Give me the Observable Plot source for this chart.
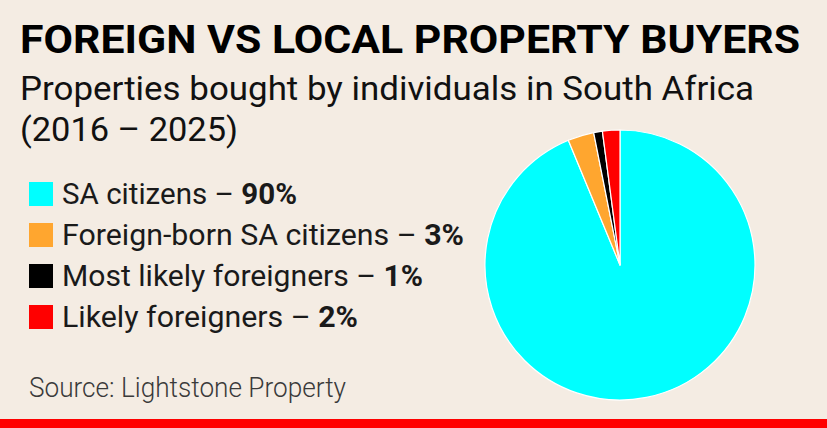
<!DOCTYPE html>
<html>
<head>
<meta charset="utf-8">
<script src="https://cdn.jsdelivr.net/npm/d3@7"></script>
<script src="https://cdn.jsdelivr.net/npm/@observablehq/plot@0.6"></script>
<style>
  html, body { margin: 0; padding: 0; background: #f4ece3; }
  #chart { position: relative; width: 827px; height: 428px; overflow: hidden; background: #f4ece3; font-family: Roboto, "Noto Sans", sans-serif; }
  .txt { position: absolute; white-space: nowrap; line-height: 1.2; z-index: 2; }
  .txt .inner { display: inline-block; transform-origin: 0 0; }
  .mk { display: inline-block; width: 0; height: 0; }
  #title { font-size: 39.5px; font-weight: 700; color: #000; }
  .sub { font-size: 34px; font-weight: 400; color: #111; }
  .leg { font-size: 30px; font-weight: 400; color: #1a1a1a; }
  .leg b { font-weight: 700; }
  #source { font-size: 28px; font-weight: 300; color: #3a3a3a; }
  .sw { position: absolute; width: 23.5px; height: 23.5px; z-index: 2; }
  #bar { position: absolute; left: 0; top: 419px; width: 827px; height: 9px; background: #ff0000; z-index: 2; }
  #plot { position: absolute; left: 0; top: 0; z-index: 1; }
</style>
</head>
<body>
<div id="chart">
  <div id="plot"></div>
  <div id="bar"></div>
</div>
<script>
// ---- data ----
const titleText = "FOREIGN VS LOCAL PROPERTY BUYERS";
const subtitleLines = ["Properties bought by individuals in South Africa", "(2016 – 2025)"];
const sourceText = "Source: Lightstone Property";
const categories = ["SA citizens", "Foreign-born SA citizens", "Most likely foreigners", "Likely foreigners"];
const shares = [90, 3, 1, 2];
const colors = ["#00ffff", "#ffa62f", "#000000", "#ff0000"];

const data = categories.map((c, i) => ({category: c, share: shares[i]}));
const color = Plot.scale({color: {type: "ordinal", domain: categories, range: colors}});

// ---- layout ----
const W = 827, H = 428;
const pieBox = {left: 485, right: 755, top: 130, bottom: 400};

// ---- pie via Plot with a custom render mark ----
const pieMark = (index, scales, values, dimensions) => {
  const dims = dimensions || {width: W, height: H, marginLeft: pieBox.left, marginRight: W - pieBox.right, marginTop: pieBox.top, marginBottom: H - pieBox.bottom};
  const iw = dims.width - dims.marginLeft - dims.marginRight;
  const ih = dims.height - dims.marginTop - dims.marginBottom;
  const cx = dims.marginLeft + iw / 2, cy = dims.marginTop + ih / 2;
  const r = Math.min(iw, ih) / 2;
  const arcs = d3.pie().sort(null).value(d => d.share)(data);
  const arc = d3.arc().innerRadius(0).outerRadius(r);
  const g = d3.create("svg:g").attr("transform", `translate(${cx},${cy})`);
  g.selectAll("path").data(arcs).join("path")
    .attr("d", arc)
    .attr("fill", d => color.apply(d.data.category))
    .attr("stroke", "#ffffff")
    .attr("stroke-width", 1.2)
    .attr("stroke-linejoin", "round");
  return g.node();
};

const plot = Plot.plot({
  width: W,
  height: H,
  marginLeft: pieBox.left,
  marginRight: W - pieBox.right,
  marginTop: pieBox.top,
  marginBottom: H - pieBox.bottom,
  style: {background: "none", overflow: "visible"},
  marks: [pieMark]
});
document.getElementById("plot").appendChild(plot);

// ---- text ----
const chart = document.getElementById("chart");
const texts = [];
function addText(id, cls, html, left, right, baseline) {
  const d = document.createElement("div");
  if (id) d.id = id;
  d.className = "txt " + (cls || "");
  d.style.left = left + "px";
  d.style.top = "0px";
  d.innerHTML = `<span class="inner">${html}<span class="mk"></span></span>`;
  chart.appendChild(d);
  texts.push({d, left, right, baseline});
}
addText("title", "", titleText, 20, 800, 52.7);
addText(null, "sub", subtitleLines[0], 20, 754, 100);
addText(null, "sub", subtitleLines[1], 20, 238, 141);
const legRight = [297, 464, 423, 358];
const legBase0 = 204, legStep = 41;
categories.forEach((c, i) => {
  const b = legBase0 + i * legStep;
  addText(null, "leg", `${c} – <b>${shares[i]}%</b>`, 62, legRight[i], b);
  const sw = document.createElement("div");
  sw.className = "sw";
  sw.style.left = "29px";
  sw.style.top = (b - 21.8) + "px";
  sw.style.background = color.apply(c);
  chart.appendChild(sw);
});
addText("source", "", sourceText, 29, 346, 397);

function layout() {
  const top0 = chart.getBoundingClientRect().top;
  for (const t of texts) {
    const inner = t.d.querySelector(".inner");
    inner.style.transform = "none";
    t.d.style.top = "0px";
    const w = inner.getBoundingClientRect().width;
    const mb = t.d.querySelector(".mk").getBoundingClientRect().bottom - top0;
    t.d.style.top = (t.baseline - mb) + "px";
    inner.style.transform = `scaleX(${(t.right - t.left) / w})`;
  }
}
layout();
if (document.fonts && document.fonts.ready) document.fonts.ready.then(layout);
</script>
</body>
</html>
